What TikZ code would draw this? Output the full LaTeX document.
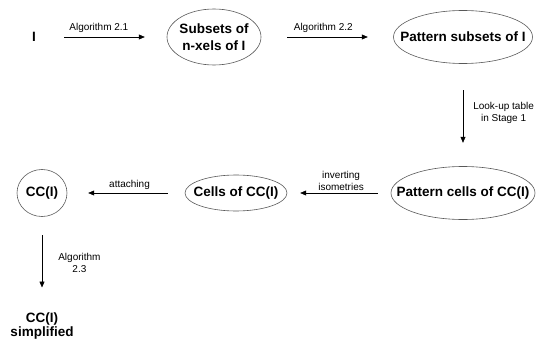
\documentclass[tikz,border=0pt]{standalone}
\usepackage{fontspec}
\setmainfont{Liberation Sans}
\usetikzlibrary{positioning,shapes,arrows.meta}

\begin{document}
\begin{tikzpicture}[x=1pt,y=-1pt]
\tikzstyle{every node}+=[inner sep=0pt]
\tikzstyle{blob}=[font=\fontsize{13.5}{16.5}\selectfont\bfseries, align=center]
\tikzstyle{rim}=[draw=black!65, line width=0.6pt]
\tikzstyle{lbl}=[font=\fontsize{10}{12}\selectfont, align=center]
\tikzstyle{go}=[-{Triangle[length=6pt,width=5pt]}, line width=0.6pt]
\useasboundingbox (0,0) rectangle (540,342);
% first row
\node[blob] (img) at (34,37) {I};
\node[blob, minimum width=94, minimum height=56] (sub) at (214,37) {Subsets of\\n-xels of I};
\node[blob, minimum width=139, minimum height=53] (pat) at (463,37) {Pattern subsets of I};
% second row
\node[blob, minimum width=144, minimum height=53] (pcell) at (463,193) {Pattern cells of CC(I)};
\node[blob, minimum width=102, minimum height=36] (cells) at (236,193) {Cells of CC(I)};
\node[blob, minimum width=50, minimum height=47] (cc) at (42,193) {CC(I)};
\node[blob, font=\fontsize{13.5}{14}\selectfont\bfseries] (simp) at (42,326) {CC(I)\\simplified};
% outlines
\draw[rim] (sub.center) ellipse [x radius=47pt, y radius=28pt];
\draw[rim] (pat.center) ellipse [x radius=69.5pt, y radius=26.5pt];
\draw[rim] (pcell.center) ellipse [x radius=72pt, y radius=26.5pt];
\draw[rim] (cells.center) ellipse [x radius=51pt, y radius=18pt];
\draw[rim] (cc.center) ellipse [x radius=25pt, y radius=23.5pt];
% steps
\draw[go, shorten <=28pt, shorten >=22pt] (img) -- node[lbl, above=4pt, pos=0.48] {Algorithm 2.1} (sub);
\draw[go, shorten <=26pt, shorten >=25.5pt] (sub) -- node[lbl, above=4pt, pos=0.47] {Algorithm 2.2} (pat);
\draw[go, shorten <=26.5pt, shorten >=23.5pt] (pat) -- node[lbl, right=10pt, pos=0.475] {Look-up table\\in Stage 1} (pcell);
\draw[go, shorten <=13pt, shorten >=13pt] (pcell) -- node[lbl, above=2.5pt, pos=0.48] {inverting\\isometries} (cells);
\draw[go, shorten <=17pt, shorten >=21pt] (cells) -- node[lbl, above=3pt, pos=0.47] {attaching} (cc);
\draw[go, shorten <=18.5pt, shorten >=25pt] (cc) -- node[lbl, right=16pt, pos=0.48] {Algorithm\\2.3} (simp);
\end{tikzpicture}
\end{document}
